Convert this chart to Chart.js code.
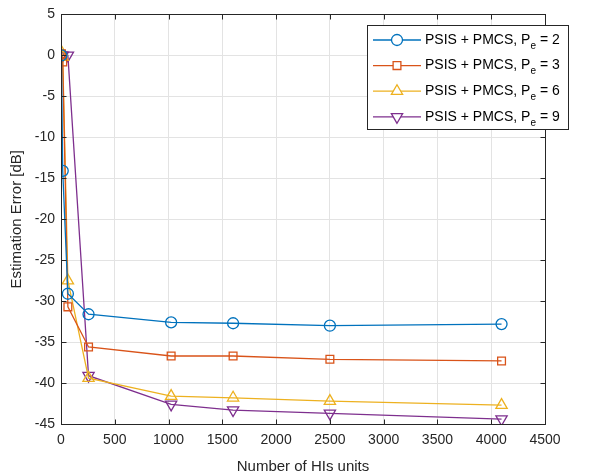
<!DOCTYPE html>
<html>
<head>
<meta charset="utf-8">
<script src="https://cdn.jsdelivr.net/npm/chart.js@4"></script>
<style>
  html, body { margin: 0; padding: 0; background: #fff; }
  #wrap { width: 600px; height: 475px; }
</style>
</head>
<body>
<div id="wrap"><canvas id="chart" width="600" height="475"></canvas></div>
<script>
// data
const hiUnits = [4, 16, 64, 256, 1024, 1600, 2500, 4096];
const errPe2 = [0, -14.1, -29.1, -31.6, -32.6, -32.7, -33.0, -32.8];
const errPe3 = [0.2, -0.8, -30.7, -35.6, -36.7, -36.7, -37.1, -37.3];
const errPe6 = [0.4, -0.2, -27.5, -39.4, -41.6, -41.8, -42.2, -42.7];
const errPe9 = [0, 0, 0, -39.1, -42.6, -43.3, -43.7, -44.4];
const peValues = ['2', '3', '6', '9'];
const xTickValues = [0, 500, 1000, 1500, 2000, 2500, 3000, 3500, 4000, 4500];
const yTickValues = [5, 0, -5, -10, -15, -20, -25, -30, -35, -40, -45];

const colors = ['#0072BD', '#D95319', '#EDB120', '#7E2F8E']; // matlab default order
const markers = [
    { style: 'circle', rot: 0, r: 5.5 },
    { style: 'rect', rot: 0, r: 5.5 },
    { style: 'triangle', rot: 0, r: 6.5 },
    { style: 'triangle', rot: 180, r: 6.5 }
];
const FONT = "'Liberation Sans', Arial, Helvetica, sans-serif";
const series = [errPe2, errPe3, errPe6, errPe9];

const datasets = series.map((vals, i) => ({
    label: 'PSIS + PMCS, Pe = ' + peValues[i],
    data: hiUnits.map((x, j) => ({ x: x, y: vals[j] })),
    showLine: true,
    borderColor: colors[i],
    backgroundColor: 'rgba(0,0,0,0)',
    borderWidth: 1.3,
    pointStyle: markers[i].style,
    rotation: markers[i].rot,
    pointRadius: markers[i].r,
    pointBorderWidth: 1.3,
    pointBorderColor: colors[i],
    pointBackgroundColor: 'rgba(0,0,0,0)',
    tension: 0
}));

// box, inward ticks and the legend (needs a subscript, so drawn by hand)
const frame = {
    id: 'frame',
    afterDraw(chart) {
        const { ctx, chartArea: a, scales } = chart;
        ctx.save();
        ctx.strokeStyle = '#262626';
        ctx.lineWidth = 1;
        const L = Math.round(a.left) + 0.5, R = Math.round(a.right) + 0.5;
        const T = Math.round(a.top) + 0.5, B = Math.round(a.bottom) + 0.5;
        ctx.strokeRect(L, T, R - L, B - T);
        ctx.beginPath();
        xTickValues.forEach(v => {
            const px = Math.round(scales.x.getPixelForValue(v)) + 0.5;
            ctx.moveTo(px, B); ctx.lineTo(px, B - 5);
            ctx.moveTo(px, T); ctx.lineTo(px, T + 5);
        });
        yTickValues.forEach(v => {
            const py = Math.round(scales.y.getPixelForValue(v)) + 0.5;
            ctx.moveTo(L, py); ctx.lineTo(L + 5, py);
            ctx.moveTo(R, py); ctx.lineTo(R - 5, py);
        });
        ctx.stroke();

        // legend
        const lx = 367.5, ly = 25.5, lw = 201, lh = 104;
        ctx.fillStyle = '#fff';
        ctx.fillRect(lx, ly, lw, lh);
        ctx.strokeStyle = '#262626';
        ctx.strokeRect(lx, ly, lw, lh);
        peValues.forEach((pe, i) => {
            const y = 40 + i * 25.6;
            ctx.strokeStyle = colors[i];
            ctx.lineWidth = 1.3;
            ctx.beginPath();
            ctx.moveTo(373, y); ctx.lineTo(421, y);
            ctx.stroke();
            ctx.fillStyle = '#fff';
            Chart.helpers.drawPoint(ctx, {
                pointStyle: markers[i].style,
                rotation: markers[i].rot,
                radius: markers[i].r,
                borderWidth: 1.3
            }, 397, y);
            ctx.fillStyle = '#000';
            ctx.textBaseline = 'middle';
            ctx.textAlign = 'left';
            ctx.font = '14px ' + FONT;
            let tx = 425;
            const a1 = 'PSIS + PMCS, P';
            ctx.fillText(a1, tx, y);
            tx += ctx.measureText(a1).width;
            ctx.font = '10px ' + FONT;
            ctx.fillText('e', tx, y + 6);
            tx += ctx.measureText('e').width;
            ctx.font = '14px ' + FONT;
            ctx.fillText(' = ' + pe, tx, y);
        });
        ctx.restore();
    }
};

new Chart(document.getElementById('chart'), {
    type: 'scatter',
    data: { datasets: datasets },
    options: {
        responsive: false,
        animation: false,
        layout: { padding: { top: 14, right: 55, left: 0, bottom: 0 } },
        plugins: {
            legend: { display: false },
            tooltip: { enabled: false }
        },
        scales: {
            x: {
                type: 'linear',
                min: 0,
                max: 4500,
                afterBuildTicks: s => { s.ticks = xTickValues.map(v => ({ value: v })); },
                afterFit: s => { s.height = 51; },
                grid: { color: '#e3e3e3', drawTicks: false },
                border: { display: false },
                ticks: { color: '#262626', font: { size: 14, family: FONT }, padding: 8, maxRotation: 0, callback: v => String(v) },
                title: { display: true, text: 'Number of HIs units', color: '#262626', font: { size: 15, family: FONT, lineHeight: 1 }, padding: { top: 0, bottom: 1 } }
            },
            y: {
                type: 'linear',
                min: -45,
                max: 5,
                afterBuildTicks: s => { s.ticks = yTickValues.map(v => ({ value: v })); },
                afterFit: s => { s.width = 61; },
                grid: { color: '#e3e3e3', drawTicks: false },
                border: { display: false },
                ticks: { color: '#262626', font: { size: 14, family: FONT }, padding: 6, callback: v => String(v) },
                title: { display: true, text: 'Estimation Error [dB]', color: '#262626', font: { size: 15, family: FONT }, padding: { top: 8, bottom: 0 } }
            }
        }
    },
    plugins: [frame]
});
</script>
</body>
</html>
